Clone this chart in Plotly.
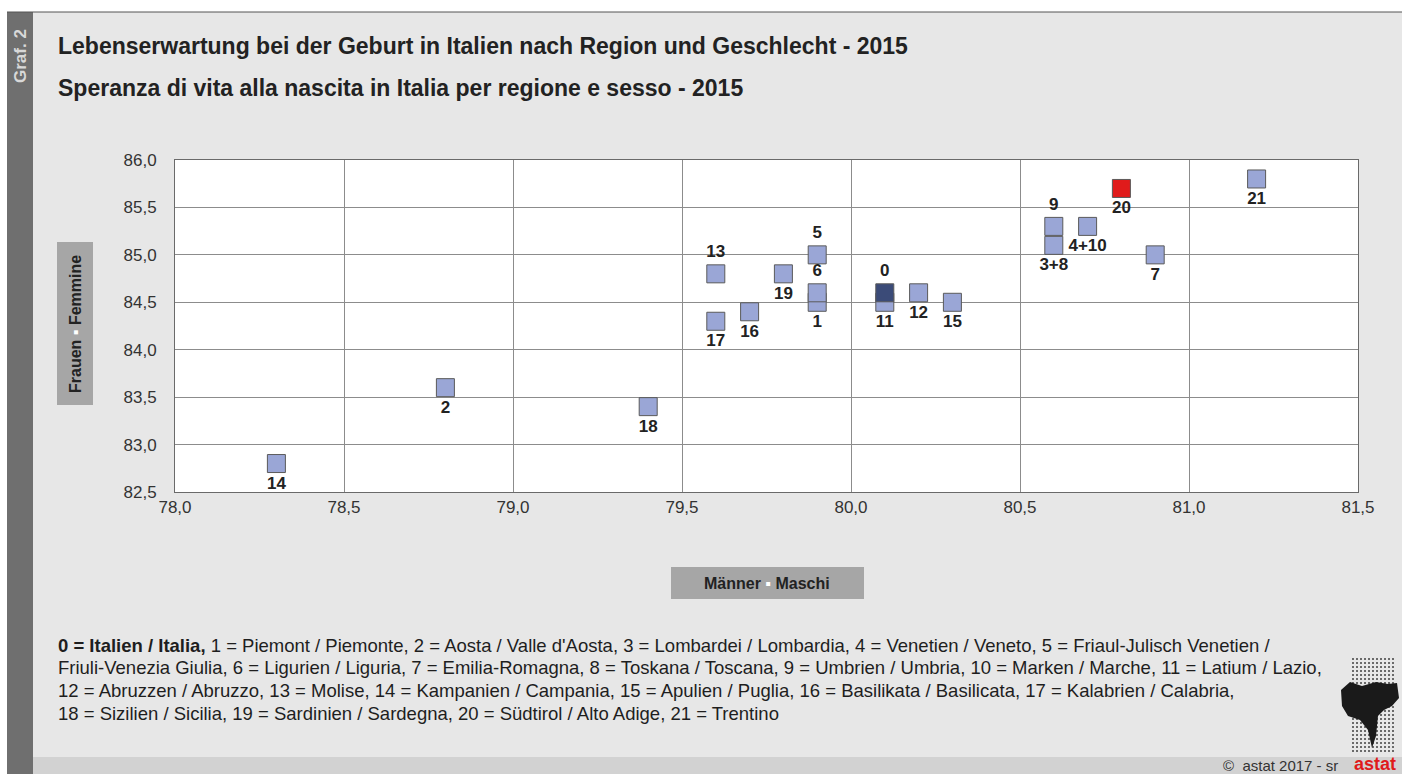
import plotly.graph_objects as go

# ---- data ----
labels = ["14", "2", "18", "17", "13", "16", "19", "1", "6", "5", "11", "0", "12", "15",
          "3+8", "9", "4+10", "20", "7", "21"]
maschi = [78.3, 78.8, 79.4, 79.6, 79.6, 79.7, 79.8, 79.9, 79.9, 79.9, 80.1, 80.1, 80.2, 80.3,
          80.6, 80.6, 80.7, 80.8, 80.9, 81.2]
femmine = [82.8, 83.6, 83.4, 84.3, 84.8, 84.4, 84.8, 84.5, 84.6, 85.0, 84.5, 84.6, 84.6, 84.5,
           85.1, 85.3, 85.3, 85.7, 85.0, 85.8]
label_pos = ["bottom center", "bottom center", "bottom center", "bottom center", "top center",
             "bottom center", "bottom center", "bottom center", "top center", "top center",
             "bottom center", "top center", "bottom center", "bottom center",
             "bottom center", "top center", "bottom center", "bottom center", "bottom center",
             "bottom center"]
kind = ["r"] * len(labels)
kind[labels.index("0")] = "it"
kind[labels.index("20")] = "st"
colors = {"r": "#9aa6d6", "it": "#3b4b78", "st": "#e01b1b"}

x_ticks = [78.0, 78.5, 79.0, 79.5, 80.0, 80.5, 81.0, 81.5]
y_ticks = [82.5, 83.0, 83.5, 84.0, 84.5, 85.0, 85.5, 86.0]

title_de = "Lebenserwartung bei der Geburt in Italien nach Region und Geschlecht - 2015"
title_it = "Speranza di vita alla nascita in Italia per regione e sesso - 2015"
footer_lines = [
    "<b>0 = Italien / Italia,</b> 1 = Piemont / Piemonte, 2 = Aosta / Valle d'Aosta, 3 = Lombardei / Lombardia, 4 = Venetien / Veneto, 5 = Friaul-Julisch Venetien /",
    "Friuli-Venezia Giulia, 6 = Ligurien / Liguria, 7 = Emilia-Romagna, 8 = Toskana / Toscana, 9 = Umbrien / Umbria, 10 = Marken / Marche, 11 = Latium / Lazio,",
    "12 = Abruzzen / Abruzzo, 13 = Molise, 14 = Kampanien / Campania, 15 = Apulien / Puglia, 16 = Basilikata / Basilicata, 17 = Kalabrien / Calabria,",
    "18 = Sizilien / Sicilia, 19 = Sardinien / Sardegna, 20 = Südtirol / Alto Adige, 21 = Trentino",
]

W, H = 1402, 774
L, R, T, B = 175, 1358, 160, 492

def px(X):
    return (X - L) / (R - L)

def py(Y):
    return (B - Y) / (B - T)

FONT = "Liberation Sans, Arial, sans-serif"

fig = go.Figure()
fig.add_trace(go.Scatter(
    x=maschi, y=femmine, mode="markers+text", text=labels, textposition=label_pos,
    textfont=dict(family=FONT, size=17, color="#222222"),
    texttemplate="<b>%{text}</b>",
    marker=dict(symbol="square", size=18, color=[colors[k] for k in kind],
                line=dict(color="#5a5a5a", width=1)),
    cliponaxis=False, hoverinfo="skip", showlegend=False,
))

shapes = []
def rect(x0, x1, y0, y1, color, layer="below"):
    shapes.append(dict(type="rect", xref="paper", yref="paper", x0=px(x0), x1=px(x1),
                       y0=py(y0), y1=py(y1), fillcolor=color, line=dict(width=0), layer=layer))

rect(0, W, 0, 12, "white")
rect(0, 7, 0, H, "white")
rect(7, 33, 12, H, "#6f6f6f")
rect(33, W, 757, H, "#d2d2d2")
shapes.append(dict(type="line", xref="paper", yref="paper", x0=px(7), x1=px(W), y0=py(12), y1=py(12),
                   line=dict(color="#555555", width=1)))
# axis title boxes
rect(57, 93, 242, 405, "#a6a6a6")
rect(671, 864, 567, 599, "#a6a6a6")

# logo: dotted grid and dark silhouette
for gy in range(0, 24):
    for gx in range(0, 11):
        X = 1352 + gx * 4
        Y = 658 + gy * 4
        shapes.append(dict(type="rect", xref="paper", yref="paper", x0=px(X), x1=px(X + 2),
                           y0=py(Y), y1=py(Y + 2), fillcolor="#6a6a6a", line=dict(width=0)))
pts = [(1341, 690), (1350, 682), (1362, 686), (1376, 682), (1388, 684), (1397, 683),
       (1399, 698), (1392, 706), (1384, 710), (1378, 716), (1376, 736), (1372, 748),
       (1368, 730), (1360, 720), (1348, 716), (1342, 706)]
d = "M " + " L ".join("%f,%f" % (px(X), py(Y)) for X, Y in pts) + " Z"
shapes.append(dict(type="path", xref="paper", yref="paper", path=d, fillcolor="#1a1a1a",
                   line=dict(width=0)))

annotations = []
def ann(text, X, Y, size=15, color="#222222", xanchor="left", yanchor="middle", textangle=0, bold=False):
    annotations.append(dict(text=("<b>%s</b>" % text) if bold else text, x=px(X), y=py(Y),
                            xref="paper", yref="paper", showarrow=False, xanchor=xanchor,
                            yanchor=yanchor, textangle=textangle,
                            font=dict(family=FONT, size=size, color=color)))

ann(title_de, 56, 46, size=23, bold=True)
ann(title_it, 56, 88, size=23, bold=True)
ann("Graf. 2", 20, 56, size=17, color="#d8d8d8", xanchor="center", textangle=-90, bold=True)
ann("Frauen <span style='color:white'>▪</span> Femmine", 75, 324, size=16, xanchor="center",
    textangle=-90, bold=True)
ann("Männer <span style='color:white'>▪</span> Maschi", 767, 583, size=16, xanchor="center", bold=True)
for i, line in enumerate(footer_lines):
    ann(line, 56, 645 + i * 22.7, size=18.5, color="#1e1e1e")
ann("©  astat 2017 - sr", 1340, 765, size=15, color="#333333", xanchor="right")
ann("astat", 1375, 764, size=18, color="#e01b1b", xanchor="center", bold=True)

fig.update_layout(
    width=W, height=H, autosize=False,
    margin=dict(l=L, r=W - R, t=T, b=H - B),
    paper_bgcolor="#e7e7e7", plot_bgcolor="white",
    separators=",.",
    shapes=shapes, annotations=annotations,
    font=dict(family=FONT, size=17, color="#333333"),
)
fig.update_xaxes(range=[78.0, 81.5], tickvals=x_ticks, tickformat=".1f", showgrid=True,
                 gridcolor="#8c8c8c", gridwidth=1, zeroline=False, showline=True, linecolor="#6a6a6a",
                 linewidth=1, mirror=True, ticks="",
                 tickfont=dict(size=17, color="#333333"), fixedrange=True)
fig.update_yaxes(range=[82.5, 86.0], tickvals=y_ticks, tickformat=".1f", showgrid=True,
                 gridcolor="#8c8c8c", gridwidth=1, zeroline=False, showline=True, linecolor="#6a6a6a",
                 linewidth=1, mirror=True, ticks="outside", ticklen=14, tickcolor="rgba(0,0,0,0)",
                 tickfont=dict(size=17, color="#333333"), fixedrange=True)

fig.write_html("out.html", config={"displayModeBar": False},
               post_script="document.body.style.margin='0';document.body.style.overflow='hidden';")
